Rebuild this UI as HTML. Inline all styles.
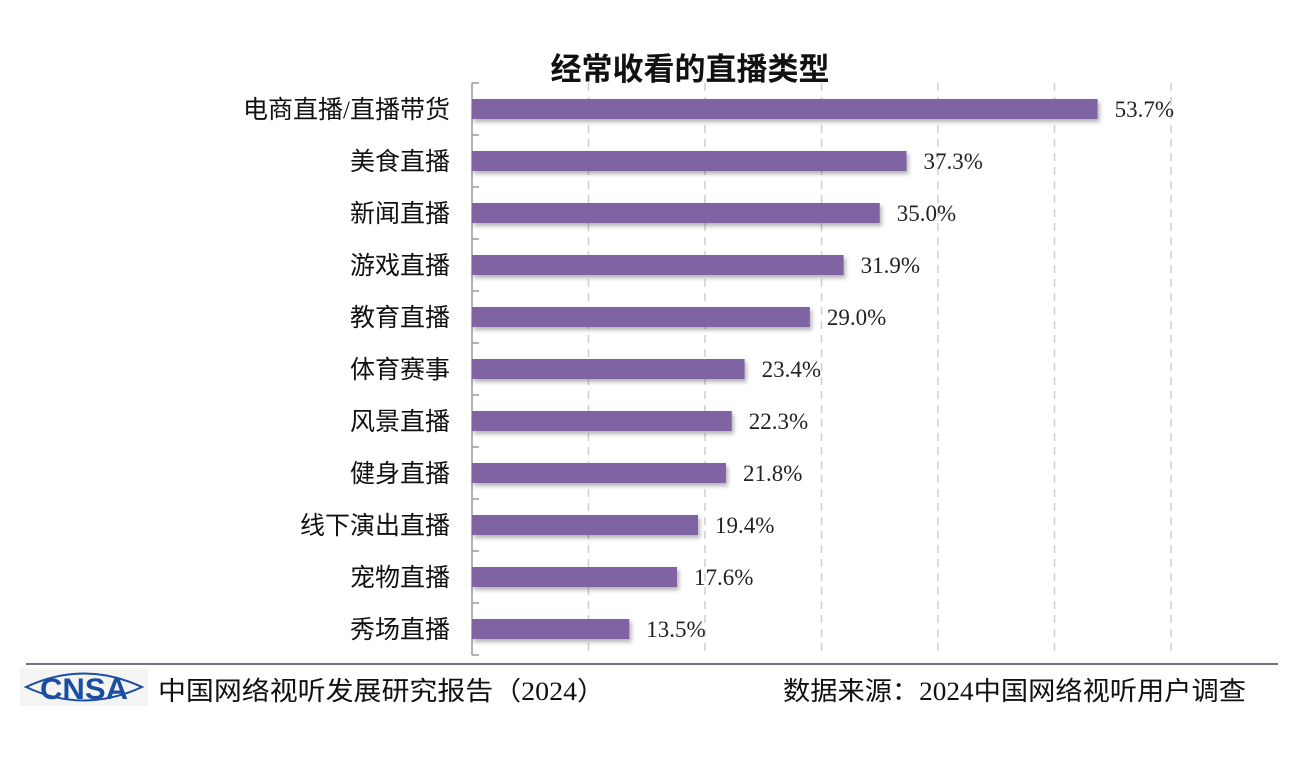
<!DOCTYPE html>
<html><head><meta charset="utf-8"><style>
body{margin:0;background:#fff;width:1305px;height:754px;overflow:hidden;font-family:"Liberation Serif","Noto Serif CJK SC",serif}
</style></head><body>
<svg width="1305" height="754" id="svg">
<defs><filter id="sh" x="-5%" y="-20%" width="110%" height="160%"><feDropShadow dx="2" dy="3" stdDeviation="2" flood-color="#000" flood-opacity="0.3"/></filter></defs>
<text x="690" y="80" text-anchor="middle" font-family="Liberation Sans,Noto Sans CJK SC,sans-serif" font-weight="bold" font-size="31" fill="#111">经常收看的直播类型</text>
<g id="grid"></g><g id="bars"></g>
<line x1="26" y1="664" x2="1278" y2="664" stroke="#7a6f8a" stroke-width="2"/>
<g>
<rect x="20" y="668" width="128" height="38" fill="#f4f4f4"/>
<path d="M26 687 Q84 660 142 687 Q84 714 26 687Z" fill="none" stroke="#1a4fa0" stroke-width="2"/>
<text x="84" y="699" text-anchor="middle" font-family="Liberation Sans,sans-serif" font-weight="bold" font-size="30" fill="#1a4fa0" textLength="88" lengthAdjust="spacingAndGlyphs">CNSA</text>
</g>
<text x="158" y="700" font-family="Liberation Serif,Noto Sans CJK SC,sans-serif" font-size="26" fill="#111" textLength="447" lengthAdjust="spacingAndGlyphs">中国网络视听发展研究报告（2024）</text>
<text x="783" y="700" font-family="Liberation Serif,Noto Sans CJK SC,sans-serif" font-size="26" fill="#111" textLength="463" lengthAdjust="spacingAndGlyphs">数据来源：2024中国网络视听用户调查</text>
</svg>
<script>
const categories=["电商直播/直播带货","美食直播","新闻直播","游戏直播","教育直播","体育赛事","风景直播","健身直播","线下演出直播","宠物直播","秀场直播"];
const values=[53.7,37.3,35.0,31.9,29.0,23.4,22.3,21.8,19.4,17.6,13.5];
const gridTicks=[10,20,30,40,50,60];
const NS="http://www.w3.org/2000/svg";
const x0=472,scale=11.65,topY=83,rowH=52,barH=20;
const xs=v=>x0+v*scale;
const g=document.getElementById('grid'),b=document.getElementById('bars');
function mk(p,tag,attrs){const e=document.createElementNS(NS,tag);for(const k in attrs)e.setAttribute(k,attrs[k]);p.appendChild(e);return e;}
const bottomY=topY+rowH*categories.length;
gridTicks.forEach(t=>{const l=mk(g,'line',{x1:xs(t),x2:xs(t),y1:topY,y2:bottomY,stroke:'#cfcfcf','stroke-width':1.5,'stroke-dasharray':'8,6'});

});
const ax=mk(g,'line',{x1:x0,x2:x0,y1:topY,y2:bottomY,stroke:'#999','stroke-width':1.5});


for(let i=0;i<=categories.length;i++){const t=mk(g,'line',{x1:x0,x2:x0+7,y1:topY+i*rowH,y2:topY+i*rowH,stroke:'#999','stroke-width':1.5});

}
categories.forEach((c,i)=>{const cy=topY+rowH*i+rowH/2;
const r=mk(b,'rect',{x:x0,y:cy-barH/2,width:xs(values[i])-x0,height:barH,fill:'#8064a2',filter:'url(#sh)'});


const lb=mk(b,'text',{x:450,y:cy+9,'text-anchor':'end','font-size':25,fill:'#111','font-family':'Liberation Serif,Noto Sans CJK SC,sans-serif'});lb.textContent=c;


const v=mk(b,'text',{x:xs(values[i])+17,y:cy+8,'font-size':23,fill:'#222','font-family':'Liberation Serif,serif'});v.textContent=values[i].toFixed(1)+'%';

});
</script>
</body></html>
